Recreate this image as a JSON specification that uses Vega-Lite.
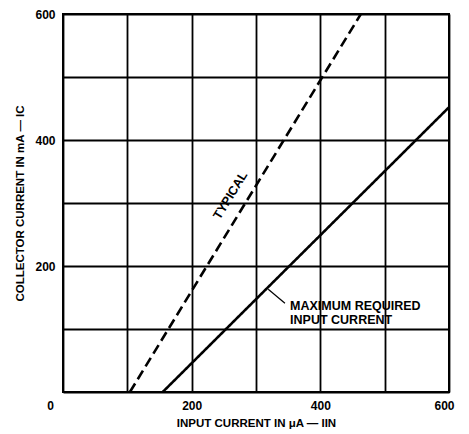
{
  "$schema": "https://vega.github.io/schema/vega-lite/v6.json",
  "width": 386,
  "height": 378,
  "autosize": "none",
  "padding": {"left": 63, "top": 14, "right": 20, "bottom": 42},
  "background": "white",
  "config": {
    "view": {"stroke": "black", "strokeWidth": 2},
    "font": "Liberation Sans",
    "axis": {
      "grid": true,
      "gridColor": "black",
      "gridWidth": 1.8,
      "gridOpacity": 1,
      "domain": false,
      "ticks": false,
      "labelFont": "Liberation Sans",
      "labelFontWeight": "bold",
      "labelFontSize": 12,
      "labelColor": "black",
      "titleFont": "Liberation Sans",
      "titleFontWeight": "bold",
      "titleFontSize": 11.5,
      "titleColor": "black"
    }
  },
  "datasets": {
    "curves": [
      {"curve": "typical", "iin": 104, "ic": 0},
      {"curve": "typical", "iin": 463, "ic": 600},
      {"curve": "maximum", "iin": 155, "ic": 0},
      {"curve": "maximum", "iin": 600, "ic": 452}
    ],
    "typlabel": [
      {"text": "TYPICAL", "iin": 260, "ic": 312}
    ],
    "maxlabel": [
      {"text": ["MAXIMUM REQUIRED", "INPUT CURRENT"], "iin": 353, "ic": 136}
    ],
    "leader": [
      {"iin": 319, "ic": 163, "iin2": 345, "ic2": 141}
    ]
  },
  "layer": [
    {
      "data": {"name": "curves"},
      "mark": {"type": "line", "color": "black", "strokeWidth": 2.6, "clip": true},
      "encoding": {
        "x": {
          "field": "iin", "type": "quantitative",
          "scale": {"domain": [0, 600], "nice": false, "zero": false},
          "axis": {
            "values": [0, 100, 200, 300, 400, 500, 600],
            "labelExpr": "datum.value % 200 == 0 ? datum.label : ''",
            "labelPadding": 8,
            "labelOffset": {"condition": [{"test": "datum.value == 0", "value": -13}, {"test": "datum.value == 600", "value": -5}], "value": 0},
            "labelOverlap": false,
            "labelFlush": false,
            "title": "INPUT CURRENT IN μA — IIN",
            "titlePadding": 6
          }
        },
        "y": {
          "field": "ic", "type": "quantitative",
          "scale": {"domain": [0, 600], "nice": false, "zero": false},
          "axis": {
            "values": [0, 100, 200, 300, 400, 500, 600],
            "labelExpr": "datum.value % 200 == 0 && datum.value > 0 ? datum.label : ''",
            "labelPadding": 8,
            "labelOverlap": false,
            "labelFlush": false,
            "title": "COLLECTOR CURRENT IN mA — IC",
            "titlePadding": 9
          }
        },
        "detail": {"field": "curve"},
        "strokeDash": {
          "field": "curve", "type": "nominal",
          "scale": {"domain": ["typical", "maximum"], "range": [[10, 5], [1, 0]]},
          "legend": null
        }
      }
    },
    {
      "data": {"name": "leader"},
      "mark": {"type": "rule", "color": "black", "strokeWidth": 1.2},
      "encoding": {
        "x": {"field": "iin", "type": "quantitative"},
        "y": {"field": "ic", "type": "quantitative"},
        "x2": {"field": "iin2"},
        "y2": {"field": "ic2"}
      }
    },
    {
      "data": {"name": "typlabel"},
      "mark": {"type": "text", "align": "center", "baseline": "middle", "angle": -58.5, "font": "Liberation Sans", "fontWeight": "bold", "fontSize": 12.5, "color": "black"},
      "encoding": {
        "x": {"field": "iin", "type": "quantitative"},
        "y": {"field": "ic", "type": "quantitative"},
        "text": {"field": "text"}
      }
    },
    {
      "data": {"name": "maxlabel"},
      "mark": {"type": "text", "align": "left", "baseline": "middle", "font": "Liberation Sans", "fontWeight": "bold", "fontSize": 12.5, "lineHeight": 14, "color": "black"},
      "encoding": {
        "x": {"field": "iin", "type": "quantitative"},
        "y": {"field": "ic", "type": "quantitative"},
        "text": {"field": "text"}
      }
    }
  ]
}
